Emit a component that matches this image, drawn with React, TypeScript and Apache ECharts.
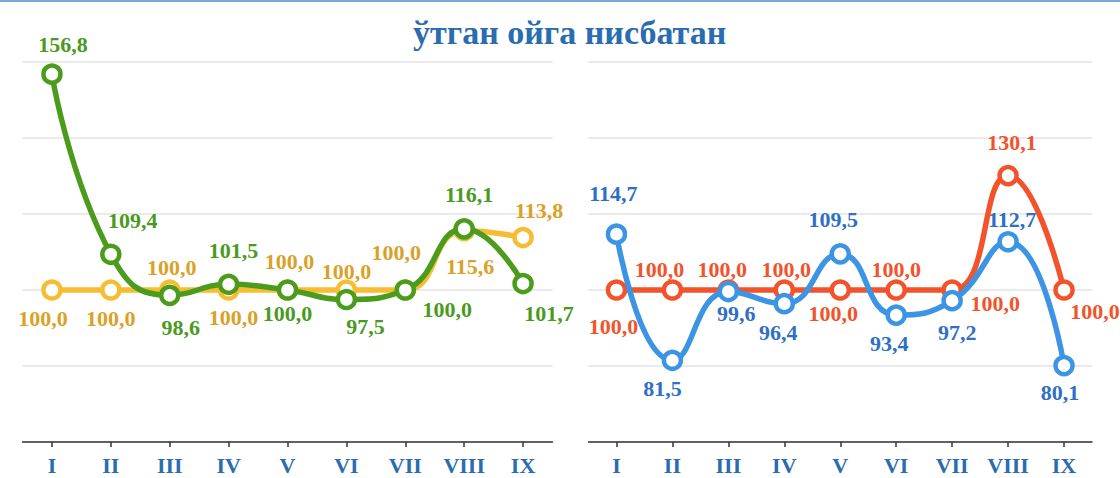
import React, { useEffect, useRef } from "react";
import * as echarts from "echarts";

const months = ["I", "II", "III", "IV", "V", "VI", "VII", "VIII", "IX"];
const greenValues = [156.8, 109.4, 98.6, 101.5, 100.0, 97.5, 100.0, 116.1, 101.7];
const yellowValues = [100.0, 100.0, 100.0, 100.0, 100.0, 100.0, 100.0, 115.6, 113.8];
const redValues = [100.0, 100.0, 100.0, 100.0, 100.0, 100.0, 100.0, 130.1, 100.0];
const blueValues = [114.7, 81.5, 99.6, 96.4, 109.5, 93.4, 97.2, 112.7, 80.1];
const titleText = "ўтган ойга нисбатан";

// label placement (offset from the point centre), kept apart from the data
const greenOffsets = [[11, -30], [22, -34], [11, 32], [5, -34], [0, 23], [19, 27], [42, 19], [5, -34], [26, 30]];
const yellowOffsets = [[-9, 28], [0, 28], [2, -23], [5, 27], [2, -29], [0, -19], [-9, -38], [6, 36], [16, -27]];
const redOffsets = [[-3, 36], [-13, -21], [-6, -21], [2, -21], [-7, 23], [0, -21], [43, 13], [4, -33], [31, 21]];
const blueOffsets = [[-3, -41], [-10, 28], [8, 22], [-6, 29], [-7, -34], [-7, 28], [5, 32], [4, -22], [-4, 27]];

const FONT = "'Liberation Serif', 'Times New Roman', serif";
const fmt = (v: number) => v.toFixed(1).replace(".", ",");

function makeSeries(
  name: string,
  values: number[],
  offsets: number[][],
  lineColor: string,
  labelColor: string,
  axisIndex: number,
  z: number
) {
  return {
    name,
    type: "line",
    xAxisIndex: axisIndex,
    yAxisIndex: axisIndex,
    smooth: true,
    symbol: "circle",
    symbolSize: 17,
    z,
    lineStyle: { color: lineColor, width: 5.5 },
    itemStyle: { color: "#ffffff", borderColor: lineColor, borderWidth: 4.5 },
    label: {
      show: true,
      position: "inside",
      color: labelColor,
      fontFamily: FONT,
      fontWeight: "bold",
      fontSize: 22,
      formatter: (p: any) => fmt(p.value),
    },
    labelLayout: (p: any) => ({
      dx: offsets[p.dataIndex][0],
      dy: offsets[p.dataIndex][1],
      hideOverlap: false,
    }),
    data: values,
  };
}

function axisPair(gridIndex: number) {
  return {
    x: {
      type: "category",
      gridIndex,
      data: months,
      boundaryGap: true,
      axisLine: { show: true, lineStyle: { color: "#333333", width: 1.5 } },
      axisTick: { show: true, alignWithLabel: true, length: 5, lineStyle: { color: "#333333", width: 1.5 } },
      axisLabel: {
        color: "#2a6cb0",
        fontFamily: FONT,
        fontWeight: "bold",
        fontSize: 22,
        margin: 12,
      },
    },
    y: {
      type: "value",
      gridIndex,
      min: 60,
      max: 160,
      interval: 20,
      axisLine: { show: false },
      axisTick: { show: false },
      axisLabel: { show: false },
      splitLine: { show: true, lineStyle: { color: "#e3e3e3", width: 1.5 } },
    },
  };
}

export default function App() {
  const ref = useRef<HTMLDivElement>(null);
  useEffect(() => {
    if (!ref.current) return;
    const chart = echarts.init(ref.current, undefined, { renderer: "svg" });
    const a0 = axisPair(0);
    const a1 = axisPair(1);
    chart.setOption({
      animation: false,
      backgroundColor: "#ffffff",
      title: {
        text: titleText,
        left: 413,
        top: 15,
        padding: 0,
        textStyle: { color: "#2a6cb0", fontFamily: FONT, fontWeight: "bold", fontSize: 34 },
      },
      graphic: [
        { type: "rect", shape: { x: 0, y: 0, width: 1120, height: 2 }, style: { fill: "#7eaad6" } },
      ],
      grid: [
        { left: 22.5, right: 567.5, top: 62, bottom: 36 },
        { left: 588.5, right: 28, top: 62, bottom: 36 },
      ],
      xAxis: [a0.x, a1.x],
      yAxis: [a0.y, a1.y],
      series: [
        makeSeries("yellow", yellowValues, yellowOffsets, "#f7bd32", "#d9a227", 0, 2),
        makeSeries("green", greenValues, greenOffsets, "#4b9b1c", "#4a9a1e", 0, 3),
        makeSeries("red", redValues, redOffsets, "#f2532b", "#f2532b", 1, 2),
        makeSeries("blue", blueValues, blueOffsets, "#3c95e4", "#2f6fc6", 1, 3),
      ],
    });
    return () => chart.dispose();
  }, []);
  return <div ref={ref} style={{ position: "fixed", left: 0, top: 0, width: 1120, height: 478 }} />;
}
